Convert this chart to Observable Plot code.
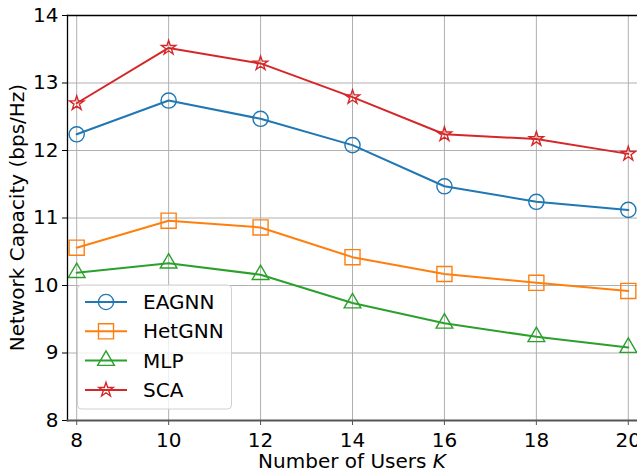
<!DOCTYPE html>
<html>
<head>
<meta charset="utf-8">
<script src="https://cdn.jsdelivr.net/npm/d3@7"></script>
<script src="https://cdn.jsdelivr.net/npm/@observablehq/plot@0.6"></script>
<style>
  html, body { margin: 0; padding: 0; background: #fff; }
  svg { font-family: "DejaVu Sans", sans-serif; }
</style>
</head>
<body>
<div id="chart"></div>
<script>
const users = [8, 10, 12, 14, 16, 18, 20];
const eagnn  = [12.24, 12.74, 12.47, 12.08, 11.47, 11.24, 11.12];
const hetgnn = [10.56, 10.96, 10.86, 10.42, 10.17, 10.04, 9.92];
const mlp    = [10.19, 10.33, 10.16, 9.74, 9.44, 9.24, 9.08];
const sca    = [12.70, 13.52, 13.29, 12.79, 12.24, 12.17, 11.95];
const seriesNames = ["EAGNN", "HetGNN", "MLP", "SCA"];
const xTicks = [8, 10, 12, 14, 16, 18, 20];
const yTicks = [8, 9, 10, 11, 12, 13, 14];

const colors = {EAGNN: "#1f77b4", HetGNN: "#ff7f0e", MLP: "#2ca02c", SCA: "#d62728"};
const symbols = {EAGNN: "circle", HetGNN: "square", MLP: "triangle", SCA: "star"};
const radii = {EAGNN: 7.6, HetGNN: 8.5, MLP: 6.2, SCA: 4.5};

const valuesBy = {EAGNN: eagnn, HetGNN: hetgnn, MLP: mlp, SCA: sca};
const data = seriesNames.flatMap(s => users.map((k, i) => ({series: s, k, v: valuesBy[s][i]})));

const W = 637, H = 473;
const mL = 67, mR = 0, mT = 15, mB = 53;
const FS = 20;

const marks = [
  Plot.gridX(xTicks, {stroke: "#b0b0b0", strokeOpacity: 1, strokeWidth: 1}),
  Plot.gridY(yTicks, {stroke: "#b0b0b0", strokeOpacity: 1, strokeWidth: 1}),
];
for (const s of seriesNames) {
  const d = data.filter(r => r.series === s);
  marks.push(Plot.line(d, {x: "k", y: "v", stroke: colors[s], strokeWidth: 2, clip: true}));
  marks.push(Plot.dot(d, {x: "k", y: "v", symbol: () => symbols[s], r: radii[s], stroke: colors[s], fill: "none", strokeWidth: 1.4}));
}
marks.push(
  Plot.axisX(xTicks, {tickSize: 5, tickPadding: 7, fontSize: FS, stroke: "#555", tickFormat: d => d, label: null}),
  Plot.axisY(yTicks, {tickSize: 5, tickPadding: 4, fontSize: FS, tickFormat: d => d, label: null}),
  Plot.frame({anchor: "left", stroke: "#000", strokeWidth: 1.3}),
  Plot.frame({anchor: "top", stroke: "#000", strokeWidth: 1.3}),
  Plot.frame({anchor: "bottom", stroke: "#555", strokeWidth: 2})
);

const chart = Plot.plot({
  width: W, height: H,
  marginLeft: mL, marginRight: mR, marginTop: mT, marginBottom: mB,
  style: {fontFamily: "DejaVu Sans, sans-serif", color: "#000", background: "#fff", overflow: "visible"},
  x: {domain: [7.8, 20.2]},
  y: {domain: [8, 14]},
  symbol: {domain: ["circle", "square", "triangle", "star"], range: ["circle", "square", "triangle", "star"]},
  marks
});

const svg = d3.select(chart);
// axis labels
svg.append("text")
  .attr("transform", `translate(18, ${(mT + H - mB) / 2}) rotate(-90)`)
  .attr("text-anchor", "middle").attr("dominant-baseline", "middle")
  .style("font-size", FS + "px").attr("fill", "#000")
  .text("Network Capacity (bps/Hz)");
const xl = svg.append("text")
  .attr("x", (mL + W) / 2).attr("y", 468)
  .attr("text-anchor", "middle").style("font-size", FS + "px").attr("fill", "#000");
xl.append("tspan").text("Number of Users ");
xl.append("tspan").attr("font-style", "italic").text("K");

// legend
const lg = svg.append("g");
lg.append("rect").attr("x", 77.5).attr("y", 285).attr("width", 154).attr("height", 124)
  .attr("rx", 4).attr("fill", "#fff").attr("fill-opacity", 0.8).attr("stroke", "#d0d0d0");
seriesNames.forEach((s, i) => {
  const y = 302 + i * 29.3;
  lg.append("line").attr("x1", 85).attr("x2", 127).attr("y1", y).attr("y2", y)
    .attr("stroke", colors[s]).attr("stroke-width", 2);
  const sym = {circle: d3.symbolCircle, square: d3.symbolSquare, triangle: d3.symbolTriangle, star: d3.symbolStar}[symbols[s]];
  lg.append("path").attr("transform", `translate(106,${y})`)
    .attr("d", d3.symbol(sym, radii[s] * radii[s] * Math.PI)())
    .attr("fill", "none").attr("stroke", colors[s]).attr("stroke-width", 1.4);
  lg.append("text").attr("x", 143).attr("y", y).attr("dominant-baseline", "central")
    .attr("text-anchor", "start")
    .style("font-size", FS + "px").attr("fill", "#000").text(s);
});

document.getElementById("chart").appendChild(chart);
</script>
</body>
</html>
